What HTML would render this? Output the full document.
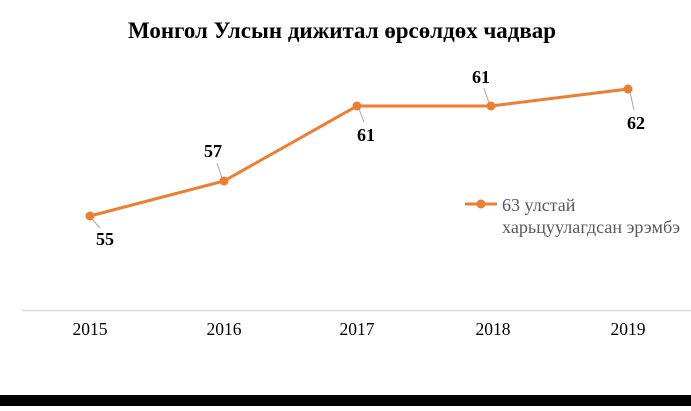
<!DOCTYPE html>
<html><head><meta charset="utf-8"><style>
body{margin:0;width:691px;height:406px;overflow:hidden;background:#fff}
</style></head><body>
<svg width="691" height="406" xmlns="http://www.w3.org/2000/svg" font-family="Liberation Serif, serif">
<rect width="691" height="406" fill="#fff"/>
<text x="342" y="38" text-anchor="middle" font-size="23" font-weight="bold" fill="#000" textLength="428" lengthAdjust="spacingAndGlyphs">Монгол Улсын дижитал өрсөлдөх чадвар</text>
<line x1="22" y1="310.5" x2="691" y2="310.5" stroke="#d9d9d9" stroke-width="1.5"/>
<g font-size="17.5" fill="#000" text-anchor="middle">
<text x="90" y="335">2015</text><text x="224" y="335">2016</text><text x="357" y="335">2017</text><text x="493" y="335">2018</text><text x="628" y="335">2019</text>
</g>
<g stroke="#a6a6a6" stroke-width="1">
<line x1="92" y1="219" x2="100" y2="228"/>
<line x1="222" y1="178" x2="217" y2="163"/>
<line x1="359" y1="109" x2="364" y2="122"/>
<line x1="489" y1="103" x2="484" y2="88"/>
<line x1="630" y1="92" x2="634" y2="110"/>
</g>
<polyline points="90,216 224,181 357,106 491,106 628,89" fill="none" stroke="#ed7d31" stroke-width="3"/>
<g fill="#ed7d31">
<circle cx="90" cy="216" r="4.5"/><circle cx="224" cy="181" r="4.5"/><circle cx="357" cy="106" r="4.5"/><circle cx="491" cy="106" r="4.5"/><circle cx="628" cy="89" r="4.5"/>
</g>
<g font-size="18" font-weight="bold" fill="#000" text-anchor="middle">
<text x="105" y="245">55</text><text x="213" y="157">57</text><text x="366" y="141">61</text><text x="481" y="83">61</text><text x="636" y="129">62</text>
</g>
<line x1="465" y1="204" x2="497" y2="204" stroke="#ed7d31" stroke-width="3"/>
<circle cx="481" cy="204" r="4.5" fill="#ed7d31"/>
<g font-size="18" fill="#595959">
<text x="502" y="211">63 улстай</text>
<text x="502" y="233" textLength="178" lengthAdjust="spacingAndGlyphs">харьцуулагдсан эрэмбэ</text>
</g>
<rect x="0" y="395" width="691" height="11" fill="#000"/>
</svg>
</body></html>
